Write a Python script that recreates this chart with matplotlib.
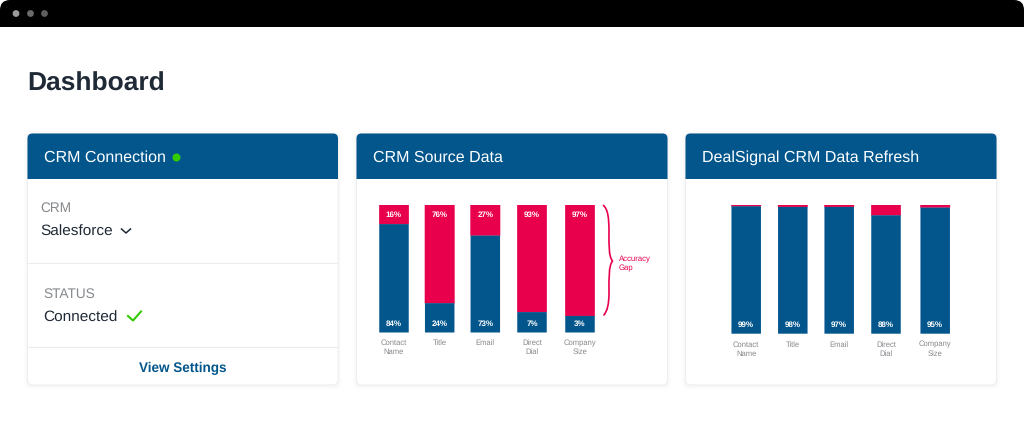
"""
Dashboard mock-up with two stacked bar cards.
"""
import matplotlib
matplotlib.use('Agg')
import matplotlib.pyplot as plt
from matplotlib.patches import FancyBboxPatch, Rectangle, Circle, PathPatch
from matplotlib.path import Path

W, H = 1024, 441
BLUE = '#02568C'
RED = '#E9004C'
GREEN = '#33CC00'
GRAY = '#85888C'
DARK = '#1F2A36'

# bar heights as drawn (percent of the bar) and the printed labels
categories = ['Contact\nName', 'Title', 'Email', 'Direct\nDial', 'Company\nSize']
source_blue = [85, 23, 76, 16, 13]
source_red = [15, 77, 24, 84, 87]
source_blue_labels = ['84%', '24%', '73%', '7%', '3%']
source_red_labels = ['16%', '76%', '27%', '93%', '97%']
refresh_blue = [99, 98.5, 98.5, 92, 98]
refresh_red = [1, 1.5, 1.5, 8, 2]
refresh_blue_labels = ['99%', '98%', '97%', '88%', '95%']

plt.rcParams['font.family'] = ['Liberation Sans', 'DejaVu Sans']
plt.rcParams['text.hinting'] = 'none'


def px(size):
    """Font size in points from a size in pixels."""
    return size * 0.72


def shCard(ax, x0, x1, y0, y1, yHead, title):
    """
    Show a card with shadow and blue header.

    Input
      ax      -  page axes
      x0, x1  -  left and right edge
      y0, y1  -  top and bottom edge
      yHead   -  bottom of header
      title   -  header text
    """
    for grow, alpha in [(4, 0.005), (3, 0.007), (2, 0.009), (1, 0.012)]:
        ax.add_patch(FancyBboxPatch((x0 - grow, y0 - grow + 1), x1 - x0 + 2 * grow, y1 - y0 + 2 * grow,
                                    boxstyle='round,pad=0,rounding_size=6', fc='black', ec='none',
                                    alpha=alpha, zorder=1))
    ax.add_patch(FancyBboxPatch((x0, y0), x1 - x0, y1 - y0, boxstyle='round,pad=0,rounding_size=5',
                                fc='white', ec='#EDEEF0', lw=0.7, zorder=2))
    head = FancyBboxPatch((x0, y0), x1 - x0, y1 - y0, boxstyle='round,pad=0,rounding_size=5',
                          fc=BLUE, ec='none', zorder=3)
    ax.add_patch(head)
    head.set_clip_path(Rectangle((x0 - 1, y0 - 1), x1 - x0 + 2, yHead - y0 + 1, transform=ax.transData))
    ax.text(x0 + 16.5, (y0 + yHead) / 2 + 1.5, title, color='white', fontsize=px(16), va='center', zorder=4)


def shBars(fig, x0, x1, yTop, yBot, xs, blue, red, blueLabs, redLabs, yCat):
    """
    Show one stacked bar chart placed at page pixels.

    Input
      fig       -  figure
      x0, x1    -  horizontal extent of the bars, pixels
      yTop      -  top of the bars, pixels
      yBot      -  bottom of the bars, pixels
      xs        -  bar centers, pixels
      blue      -  lower segment
      red       -  upper segment
      blueLabs  -  labels in the lower segment
      redLabs   -  labels in the upper segment, {None}
      yCat      -  offset of category labels under the axis, pixels
    """
    ax = fig.add_axes([x0 / W, 1 - yBot / H, (x1 - x0) / W, (yBot - yTop) / H])
    ax.patch.set_alpha(0)
    ax.set_xlim(x0, x1)
    ax.set_ylim(0, 100)
    ax.bar(xs, red, width=29.5, bottom=blue, color=RED, edgecolor=RED, linewidth=0.3, snap=False)
    ax.bar(xs, blue, width=29.5, color=BLUE, zorder=1.5, snap=False)
    ax.set_xticks(xs)
    ax.set_xticklabels(categories, color=GRAY, fontsize=px(7.7), linespacing=1.28)
    ax.tick_params(axis='x', length=0, pad=yCat * 0.72)
    ax.set_yticks([])
    for sp in ax.spines.values():
        sp.set_visible(False)

    dy = 100.0 / (yBot - yTop)
    for i, x in enumerate(xs):
        ax.text(x, 9 * dy, blueLabs[i], color='white', fontweight='bold', fontsize=px(8),
                ha='center', va='center', zorder=3)
        if redLabs is not None:
            ax.text(x, 100 - 10 * dy, redLabs[i], color='white', fontweight='bold', fontsize=px(8),
                    ha='center', va='center', zorder=3)


fig = plt.figure(figsize=(W / 100, H / 100), dpi=100, facecolor='white')
page = fig.add_axes([0, 0, 1, 1])
page.set_xlim(0, W)
page.set_ylim(H, 0)
page.axis('off')

# window bar
page.add_patch(FancyBboxPatch((0, 0), W, 40, boxstyle='round,pad=0,rounding_size=10',
                              fc='black', ec='none', zorder=1))
page.add_patch(Rectangle((0, 27), W, 20, fc='white', ec='none', zorder=1.5))
for x, c in zip([16, 30.5, 44.5], ['#9A9A9A', '#6A6A6A', '#5E5E5E']):
    page.add_patch(Circle((x, 13.5), 3.4, fc=c, ec='none', zorder=2))

page.text(27.5, 84, 'Dashboard', color=DARK, fontweight='bold', fontsize=px(26.4), va='center')

shCard(page, 27.5, 338, 133.5, 385, 179, 'CRM Connection')
shCard(page, 356.5, 667.5, 133.5, 385, 179, 'CRM Source Data')
shCard(page, 685.5, 996.5, 133.5, 385, 179, 'DealSignal CRM Data Refresh')

# left card
page.add_patch(Circle((176.5, 157.5), 4, fc=GREEN, ec='none', zorder=5))
page.text(40.5, 208, 'CRM', color=GRAY, fontsize=px(13.6), va='center', zorder=5)
page.text(40, 232, 'Salesforce', color=DARK, fontsize=px(15.4), va='center', zorder=5)
page.plot([121.5, 126, 130.5], [229, 233, 229], color=DARK, lw=1.1, zorder=5)
page.plot([27.5, 338], [262.7, 262.7], color='#EBECEE', lw=0.8, zorder=5)
page.text(43.7, 294, 'STATUS', color=GRAY, fontsize=px(13.6), va='center', zorder=5)
page.text(43.5, 318, 'Connected', color=DARK, fontsize=px(15.4), va='center', zorder=5)
page.plot([128, 133, 141], [316, 320.5, 311.5], color=GREEN, lw=1.5, zorder=5)
page.plot([27.5, 338], [347.3, 347.3], color='#EBECEE', lw=0.8, zorder=5)
page.text(183, 368.5, 'View Settings', color=BLUE, fontweight='bold', fontsize=px(13.5),
          ha='center', va='center', zorder=5)

# accuracy gap brace
brace = Path([(603, 205), (608, 209), (609, 218), (609, 232), (609, 245), (608.5, 256), (612.5, 261),
              (608.5, 266), (609, 279), (609, 292), (609, 304), (607.5, 311), (603.5, 315.5)],
             [Path.MOVETO] + [Path.CURVE4] * 12)
page.add_patch(PathPatch(brace, fc='none', ec=RED, lw=1.2, zorder=5))
page.text(618.5, 259, 'Accuracy', color=RED, fontsize=px(7.8), va='center', zorder=5)
page.text(618.5, 268, 'Gap', color=RED, fontsize=px(7.8), va='center', zorder=5)

shBars(fig, 360, 660, 205, 332.5, [394, 439.7, 485.3, 532, 580], source_blue, source_red,
       source_blue_labels, source_red_labels, 7)
shBars(fig, 690, 990, 205, 333.7, [746.2, 792.8, 839.2, 886, 935.2], refresh_blue, refresh_red,
       refresh_blue_labels, None, 7)

fig.savefig('out.png', dpi=100)
